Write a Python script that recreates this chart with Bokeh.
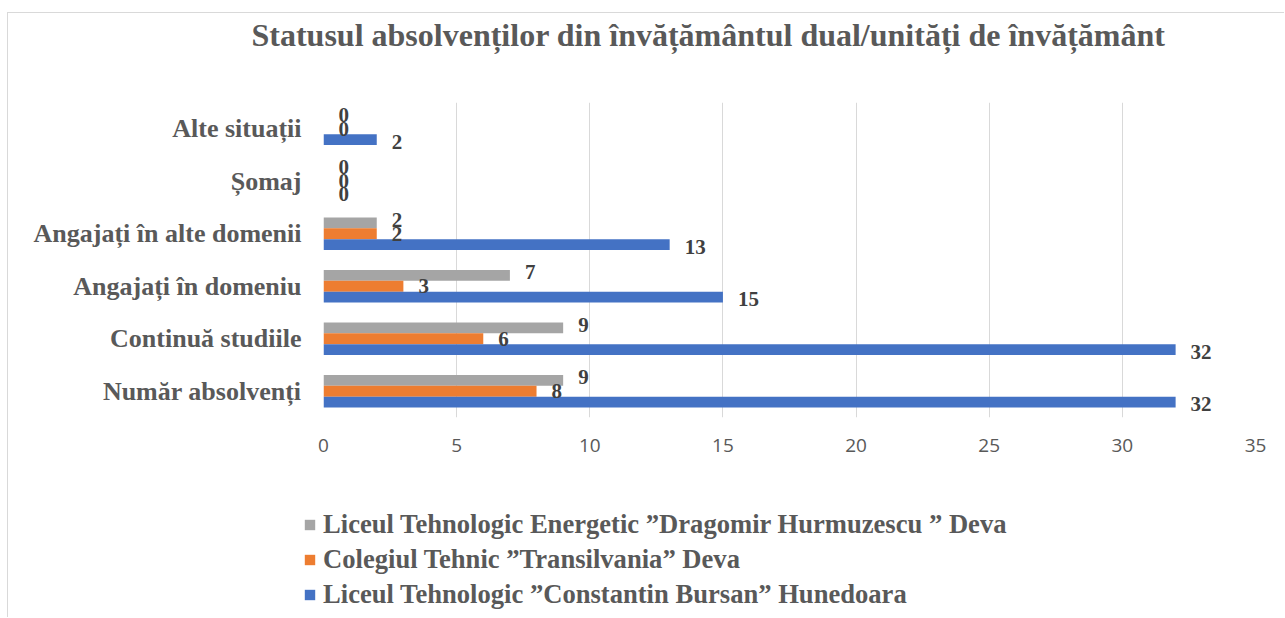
from bokeh.plotting import figure
from bokeh.layouts import column
from bokeh.models import (FactorRange, Range1d, FixedTicker, Legend, LegendItem,
                          ColumnDataSource, LabelSet, Title)
from bokeh.transform import dodge
from bokeh.embed import file_html
from bokeh.resources import INLINE

# ---------------- data (top-to-bottom as in the picture) ----------------
categories = ["Alte situații", "Șomaj", "Angajați în alte domenii",
              "Angajați în domeniu", "Continuă studiile", "Număr absolvenți"]
bursan = [2, 0, 13, 15, 32, 32]          # Liceul Tehnologic "Constantin Bursan" Hunedoara
transilvania = [0, 0, 2, 3, 6, 8]        # Colegiul Tehnic "Transilvania" Deva
hurmuzescu = [0, 0, 2, 7, 9, 9]          # Liceul Tehnologic Energetic "Dragomir Hurmuzescu" Deva
series_names = ["Liceul Tehnologic Energetic ”Dragomir Hurmuzescu ” Deva",
                "Colegiul Tehnic ”Transilvania” Deva",
                "Liceul Tehnologic ”Constantin Bursan” Hunedoara"]
x_ticks = [0, 5, 10, 15, 20, 25, 30, 35]
title_text = "Statusul absolvenților din învățământul dual/unități de învățământ"

colors = ["#A5A5A5", "#ED7D31", "#4472C4"]
SERIF = "Liberation Serif"
GREY_TXT = "#595959"
W = 1276

factors = list(reversed(categories))
p = figure(width=W, height=470, y_range=FactorRange(*factors),
           x_range=Range1d(0, 35), output_backend="svg", toolbar_location=None,
           min_border_left=315, min_border_right=29, min_border_top=89,
           min_border_bottom=66)
p.title_location = None
p.outline_line_color = None
p.background_fill_color = "white"

src = ColumnDataSource(dict(cat=categories, bursan=bursan,
                            transilvania=transilvania, hurmuzescu=hurmuzescu,
                            lb_b=[str(v) for v in bursan],
                            lb_t=[str(v) for v in transilvania],
                            lb_h=[str(v) for v in hurmuzescu]))

bh = 0.205
specs = [("hurmuzescu", "lb_h", bh, colors[0], -3),
         ("transilvania", "lb_t", 0.0, colors[1], 0),
         ("bursan", "lb_b", -bh, colors[2], 2)]
for field, lab, off, col, yoff in specs:
    p.hbar(y=dodge("cat", off, range=p.y_range), left=0, right=field,
           height=bh, source=src, fill_color=col, line_color=None)
    ls = LabelSet(x=field, y=dodge("cat", off, range=p.y_range), text=lab,
                  source=src, x_offset=15, y_offset=-yoff,
                  text_font=SERIF, text_font_style="bold", text_font_size="21px",
                  text_color="#404040", text_baseline="middle", text_align="left")
    p.add_layout(ls)

# axes
p.xaxis.ticker = FixedTicker(ticks=x_ticks)
p.xaxis.axis_line_color = None
p.xaxis.major_tick_line_color = None
p.xaxis.minor_tick_line_color = None
p.xaxis.major_label_text_font = "Open Sans"
p.xaxis.major_label_text_font_size = "19px"
p.xaxis.major_label_text_color = GREY_TXT
p.xaxis.major_label_standoff = 15

p.yaxis.axis_line_color = None
p.yaxis.major_tick_line_color = None
p.yaxis.minor_tick_line_color = None
p.yaxis.major_label_text_font = SERIF
p.yaxis.major_label_text_font_style = "bold"
p.yaxis.major_label_text_font_size = "26px"
p.yaxis.major_label_text_color = GREY_TXT
p.yaxis.major_label_standoff = 16

p.xgrid.grid_line_color = "#D9D9D9"
p.ygrid.grid_line_color = None

# title: spacer (closest to the frame) then the real title
p.add_layout(Title(text=" ", text_font_size="43px", standoff=0), "above")
p.add_layout(Title(text=title_text, align="left", offset=-72, standoff=0,
                   text_font=SERIF, text_font_style="bold", text_font_size="32px",
                   text_color=GREY_TXT), "above")

# ---------------- legend strip below the chart ----------------
q = figure(width=W, height=134, x_range=Range1d(-2, -1), y_range=Range1d(-2, -1),
           output_backend="svg", toolbar_location=None,
           x_axis_location=None, y_axis_location=None,
           min_border=0, min_border_left=0, min_border_right=0,
           min_border_top=0, min_border_bottom=0)
q.outline_line_color = None
q.grid.visible = False
q.title_location = None
aligned_off = True
for fig in (p, q):
    if "frame_align" in fig.properties():
        fig.frame_align = False
    else:
        aligned_off = False

fields = ["hurmuzescu", "transilvania", "bursan"]
leg_r = [q.hbar(y=f, left=0, right=f, height=0.5, source=src,
                fill_color=c, line_color=None, visible=False)
         for f, c in zip(fields, colors)]
legend = Legend(items=[LegendItem(label=series_names[i], renderers=[leg_r[i]])
                       for i in range(3)],
                location=(295 if aligned_off else 0, 7), orientation="vertical",
                glyph_width=13, glyph_height=13, label_standoff=7, spacing=4,
                label_height=31, padding=0, margin=0,
                label_text_font=SERIF, label_text_font_style="bold",
                label_text_font_size="26.6px", label_text_color=GREY_TXT,
                inactive_fill_alpha=0,
                border_line_color=None, background_fill_alpha=0)
q.add_layout(legend)

layout = column(p, q, spacing=0)
layout.styles = {"margin-top": "12px", "margin-left": "7px",
                 "border-top": "1px solid #d9d9d9", "border-left": "1px solid #d9d9d9"}

open("out.html", "w").write(file_html(layout, INLINE))
